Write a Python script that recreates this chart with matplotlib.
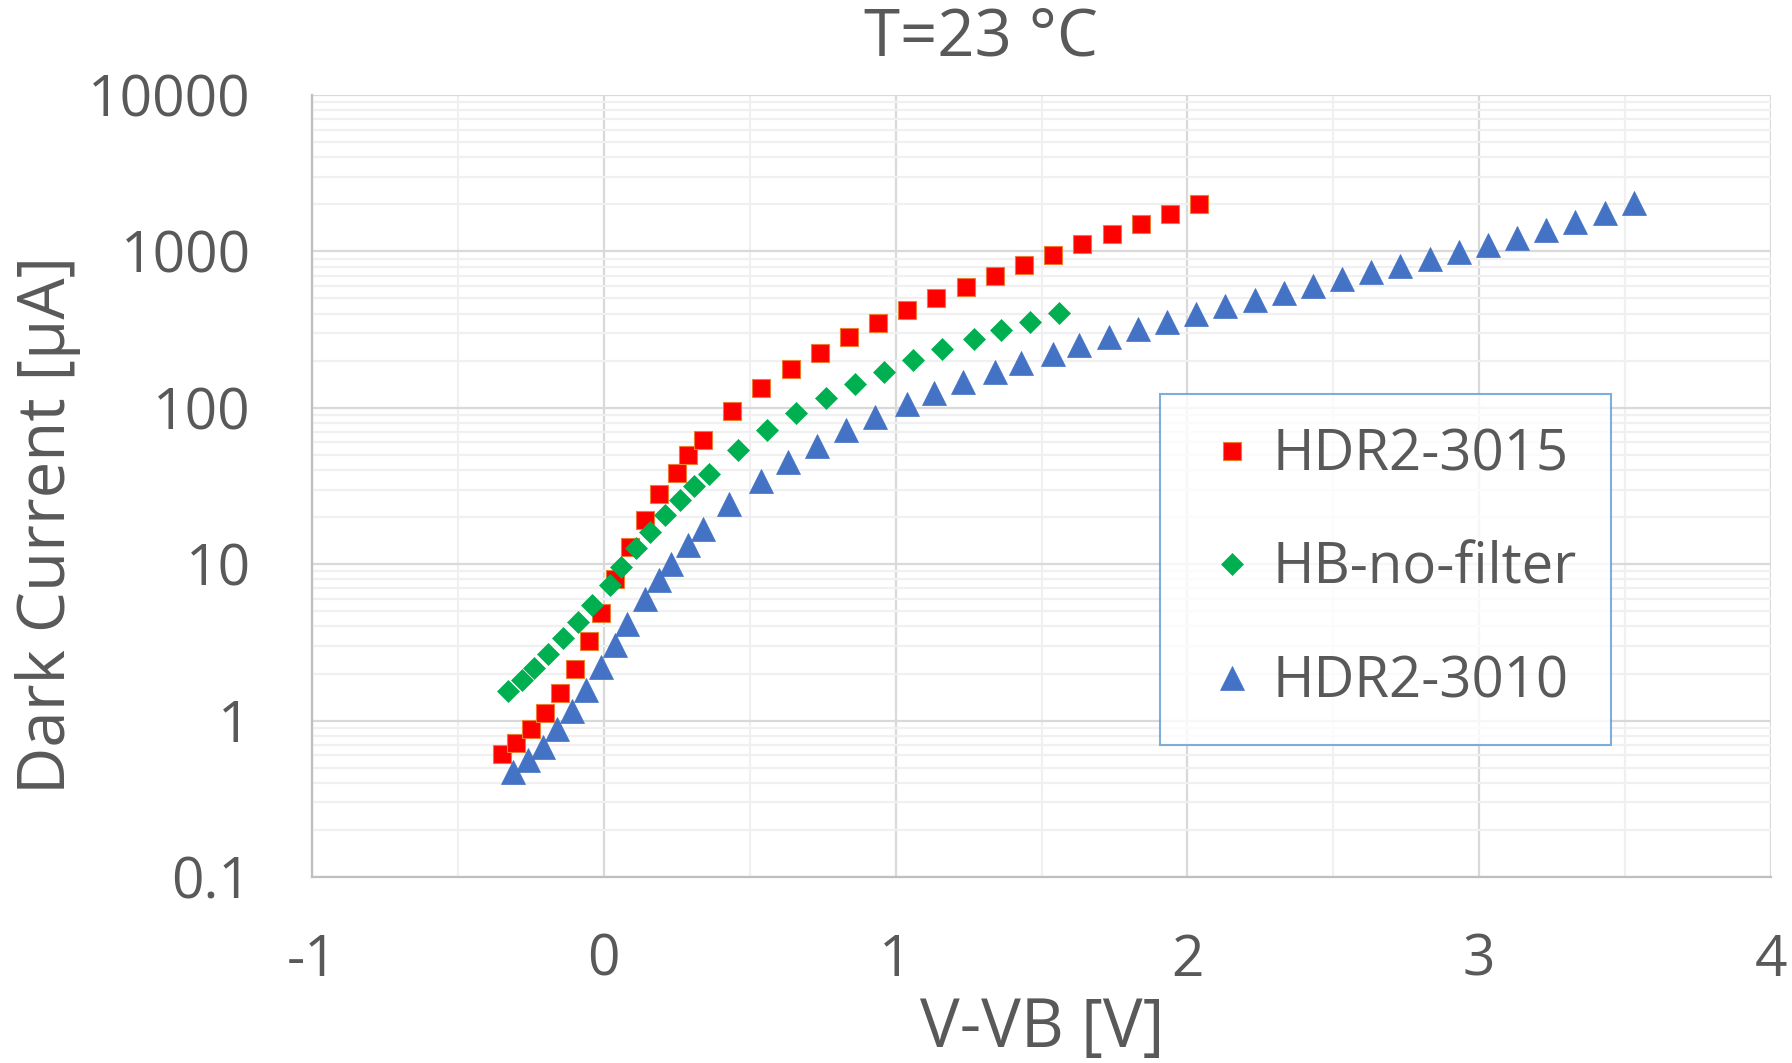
import numpy as np
import matplotlib
matplotlib.use('Agg')
import matplotlib.pyplot as plt
from matplotlib.ticker import FixedLocator, FuncFormatter, LogLocator, NullFormatter

# data (V-VB [V], dark current [uA])
hdr3015_v = [-0.35, -0.30, -0.25, -0.20, -0.15, -0.10, -0.05, -0.01, 0.04, 0.09,
             0.14, 0.19, 0.25, 0.29, 0.34, 0.44, 0.54, 0.64, 0.74, 0.84,
             0.94, 1.04, 1.14, 1.24, 1.34, 1.44, 1.54, 1.64, 1.74, 1.84,
             1.94, 2.04]
hdr3015_i = [0.61, 0.72, 0.88, 1.12, 1.50, 2.14, 3.21, 4.9, 8.0, 12.8,
             19.1, 28, 38.4, 49.8, 62.7, 95, 133, 177, 225, 283,
             349, 421, 502, 594, 698, 817, 946, 1114, 1291, 1489,
             1726, 2000]

hb_v = [-0.33, -0.28, -0.24, -0.19, -0.14, -0.09, -0.04, 0.02, 0.06, 0.11,
        0.16, 0.21, 0.26, 0.31, 0.36, 0.46, 0.56, 0.66, 0.76, 0.86,
        0.96, 1.06, 1.16, 1.27, 1.36, 1.46, 1.56]
hb_i = [1.55, 1.81, 2.17, 2.65, 3.35, 4.27, 5.5, 7.4, 9.6, 12.7,
        16.1, 20.6, 25.9, 31.5, 38, 53.6, 72, 92.7, 115, 141.5,
        170, 202, 236, 274, 314, 355, 401]

hdr3010_v = [-0.31, -0.26, -0.21, -0.16, -0.11, -0.06, -0.01, 0.04, 0.08, 0.14,
             0.19, 0.23, 0.29, 0.34, 0.43, 0.54, 0.63, 0.73, 0.83, 0.93,
             1.04, 1.13, 1.23, 1.34, 1.43, 1.54, 1.63, 1.73, 1.83, 1.93,
             2.03, 2.13, 2.23, 2.33, 2.43, 2.53, 2.63, 2.73, 2.83, 2.93,
             3.03, 3.13, 3.23, 3.33, 3.43, 3.53]
hdr3010_i = [0.47, 0.556, 0.68, 0.88, 1.16, 1.58, 2.2, 3.03, 4.17, 5.96,
             7.9, 10.1, 13.2, 16.9, 24.4, 34.1, 45, 57, 72, 87.5,
             106, 124, 146, 170, 194, 221, 251, 285, 318, 356,
             396, 445, 490, 545, 600, 667, 734, 809, 893, 991,
             1097, 1222, 1365, 1535, 1762, 2028]

x_ticks = [-1, 0, 1, 2, 3, 4]
y_ticks = [0.1, 1, 10, 100, 1000, 10000]

TXT = '#595959'
plt.rcParams['font.family'] = ['Open Sans', 'DejaVu Sans']

W, H = 1792, 1063
fig = plt.figure(figsize=(W / 100, H / 100), dpi=100)
ax = fig.add_axes([312 / W, 1 - 877 / H, (1771 - 312) / W, (877 - 95) / H])

ax.set_yscale('log')
ax.set_xlim(-1, 4)
ax.set_ylim(0.1, 10000)

ax.xaxis.set_major_locator(FixedLocator(x_ticks))
ax.xaxis.set_minor_locator(FixedLocator([-0.5, 0.5, 1.5, 2.5, 3.5]))
ax.yaxis.set_major_locator(FixedLocator(y_ticks))
ax.yaxis.set_minor_locator(LogLocator(base=10, subs=np.arange(2, 10), numticks=20))
ax.yaxis.set_minor_formatter(NullFormatter())
ax.yaxis.set_major_formatter(FuncFormatter(lambda v, p: ('%g' % v)))
ax.xaxis.set_major_formatter(FuncFormatter(lambda v, p: '%d' % v))

ax.grid(True, which='major', color='#D9D9D9', lw=1.6)
ax.grid(True, which='minor', color='#F0F0F0', lw=1.6)
ax.set_axisbelow(True)
for s in ['top', 'right']:
    ax.spines[s].set_visible(False)
for s in ['left', 'bottom']:
    ax.spines[s].set_color('#BFBFBF')
    ax.spines[s].set_linewidth(1.6)
ax.tick_params(which='both', length=0)
ax.tick_params(axis='y', labelsize=41, labelcolor=TXT, pad=44)
ax.tick_params(axis='x', labelsize=41, labelcolor=TXT, pad=40)

ax.plot(hdr3015_v, hdr3015_i, ls='none', marker='s', ms=13, mfc='#FF0000',
        mec='#ED7D31', mew=0.8, label='HDR2-3015')
ax.plot(hb_v, hb_i, ls='none', marker='D', ms=11, mfc='#00B050',
        mec='#00B050', mew=0.5, label='HB-no-filter')
ax.plot(hdr3010_v, hdr3010_i, ls='none', marker='^', ms=17, mfc='#4472C4',
        mec='#4472C4', mew=0.5, label='HDR2-3010')

leg = ax.legend(loc='upper left', bbox_to_anchor=(1160 / W, 1 - 394 / H),
                bbox_transform=fig.transFigure, fontsize=40.5, frameon=True,
                fancybox=False, borderpad=0.6, labelspacing=1.0,
                handlelength=1.35, handletextpad=0.05, borderaxespad=0)
leg.get_frame().set_edgecolor('#5B9BD5')
leg.get_frame().set_linewidth(1.5)
for t in leg.get_texts():
    t.set_color(TXT)

fig.text(981 / W, 1 - 38 / H, 'T=23 °C', ha='center', va='center',
         fontsize=47, color=TXT)
fig.text(1042 / W, 1 - 1029 / H, 'V-VB [V]', ha='center', va='center',
         fontsize=48, color=TXT)
fig.text(48 / W, 1 - 525 / H, 'Dark Current [μA]', ha='center', va='center',
         rotation=90, fontsize=47, color=TXT)

fig.savefig('out.png', dpi=100)
